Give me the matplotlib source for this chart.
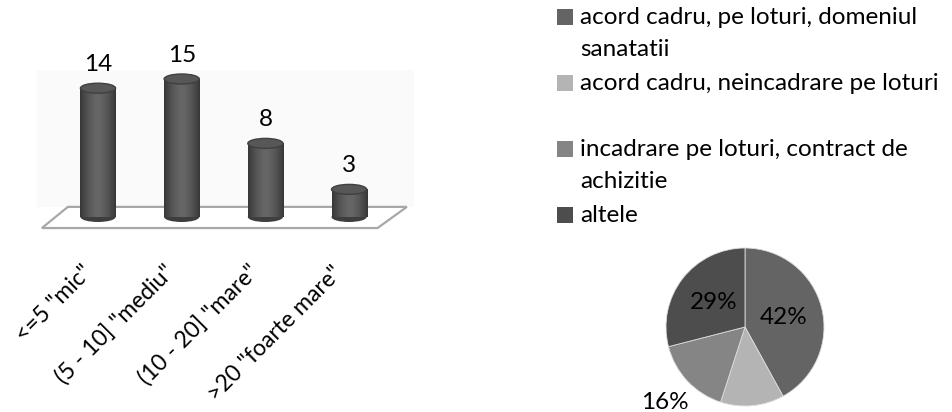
import matplotlib
matplotlib.use("Agg")
import matplotlib.pyplot as plt
import numpy as np
from matplotlib.patches import Ellipse, Polygon, Rectangle

plt.rcParams['font.family'] = ['Lato', 'DejaVu Sans']

# bar chart data
size_labels = ['<=5 "mic"', '(5 - 10] "mediu"', '(10 - 20] "mare"', '>20 "foarte mare"']
size_counts = [14, 15, 8, 3]

# pie chart data
proc_labels = ['acord cadru, pe loturi, domeniul\nsanatatii',
               'acord cadru, neincadrare pe loturi',
               'incadrare pe loturi, contract de\nachizitie',
               'altele']
proc_share = [42, 13, 16, 29]
proc_colors = ['#646464', '#b4b4b4', '#858585', '#4d4d4d']
pct_text = ['42%', '', '16%', '29%']
pct_dist = [0.5, 0.5, 1.4, 0.5]

W, H = 952, 412
fig = plt.figure(figsize=(W / 100, H / 100), dpi=100)

# ---- 3D-ish cylinder bars ----
px_unit_x = 83.7   # pixels between categories
px_unit_y = 9.2    # pixels per count
x0_px, y0_px = 98, 217  # first bar center, baseline (from top)
ax = fig.add_axes([0, 0, 420 / W, 1])
ax.set_xlim((0 - x0_px) / px_unit_x, (420 - x0_px) / px_unit_x)
ax.set_ylim(-(H - y0_px) / px_unit_y, y0_px / px_unit_y)
ax.axis('off')

xs = np.arange(len(size_counts))
bw = 0.42
cap_h = 10 / px_unit_y

# faint back wall and floor
ax.add_patch(Rectangle((-0.73, 1.1), 4.5, 14.9, facecolor='#fafafa',
                       edgecolor='none', zorder=0))
floor = Polygon([(-0.36, 1.1), (3.69, 1.1), (3.34, -1.2), (-0.67, -1.2)],
                closed=True, facecolor='white', edgecolor='#a8a8a8', lw=1.6, zorder=1)
ax.add_patch(floor)

bars = ax.bar(xs, size_counts, width=bw, color='#555555', zorder=3)
grad = np.linspace(-1, 1, 64)
grad = 1 - 0.45 * np.abs(grad) ** 1.6
for b, v in zip(bars, size_counts):
    xl = b.get_x()
    # bottom rim
    ax.add_patch(Ellipse((xl + bw / 2, 0), bw, cap_h, facecolor='#3e3e3e',
                         edgecolor='none', zorder=2.9))
    im = ax.imshow(grad[np.newaxis, :], cmap='gray', vmin=0, vmax=2.5,
                   extent=[xl, xl + bw, 0, v], aspect='auto', zorder=3.1)
    im.set_clip_path(b)
    # top cap
    ax.add_patch(Ellipse((xl + bw / 2, v), bw, cap_h, facecolor='#575757',
                         edgecolor='#404040', lw=1.0, zorder=3.2))
    ax.text(xl + bw / 2, v + cap_h / 2 + 0.9, str(v), ha='center', va='bottom',
            fontsize=17.5, color='black', zorder=4)

for x, lab in zip(xs, size_labels):
    ax.text(x - 5 / px_unit_x, -(274 - y0_px) / px_unit_y, lab, rotation=45,
            rotation_mode='anchor', ha='right', va='baseline', fontsize=16.5)

# ---- pie ----
cx, cy, R = 745, 327, 79
box = 110
ax2 = fig.add_axes([(cx - box) / W, (H - cy - box) / H, 2 * box / W, 2 * box / H])
wedges, _ = ax2.pie(proc_share, colors=proc_colors, startangle=90, counterclock=False,
                    radius=1, wedgeprops=dict(edgecolor='#dddddd', linewidth=0.6))
ax2.set_xlim(-box / R, box / R)
ax2.set_ylim(-box / R, box / R)
ax2.set_aspect('equal')
ax2.axis('off')
for w, t, d in zip(wedges, pct_text, pct_dist):
    ang = np.deg2rad((w.theta1 + w.theta2) / 2)
    ax2.text(d * np.cos(ang), d * np.sin(ang), t, ha='center', va='center',
             fontsize=17.5, color='black')

# ---- legend ----
for i, (lab, col) in enumerate(zip(proc_labels, proc_colors)):
    ytop = 17 + 66 * i
    fig.patches.append(Rectangle((557 / W, (H - ytop - 8) / H), 16 / W, 16 / H,
                                 facecolor=col, edgecolor='none',
                                 transform=fig.transFigure, figure=fig))
    for j, line in enumerate(lab.split('\n')):
        fig.text(580 / W, (H - ytop - 33 * j) / H, line, ha='left', va='center',
                 fontsize=17.5)

fig.savefig('out.png', dpi=100)
